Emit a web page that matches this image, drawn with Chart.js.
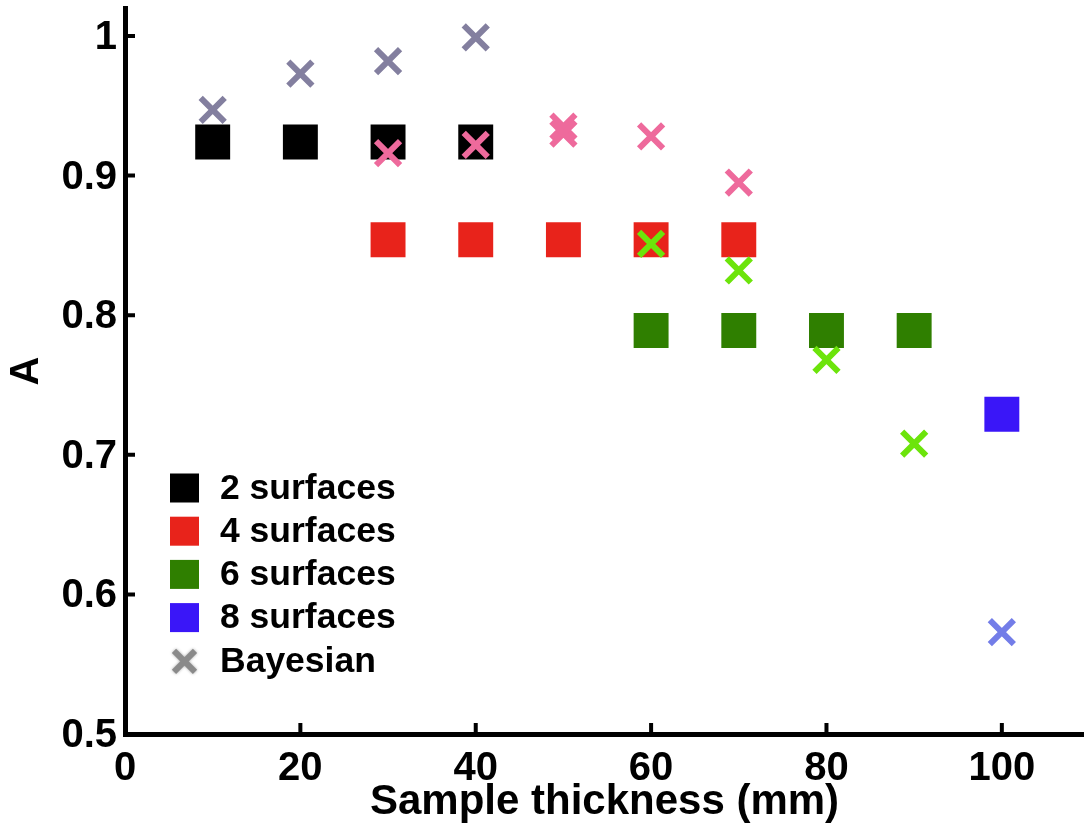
<!DOCTYPE html>
<html>
<head>
<meta charset="utf-8">
<script src="https://cdn.jsdelivr.net/npm/chart.js@4.4.1/dist/chart.umd.min.js"></script>
<style>
    html, body { margin: 0; padding: 0; background: #fff; }
    #wrap { width: 1084px; height: 828px; }
</style>
</head>
<body>
<div id="wrap"><canvas id="thicknessChart" width="1084" height="828"></canvas></div>
<script>
// measured surfaces (squares)
const twoX = [10, 20, 30, 40];
const twoA = [0.924, 0.924, 0.924, 0.924];
const fourX = [30, 40, 50, 60, 70];
const fourA = [0.854, 0.854, 0.854, 0.854, 0.854];
const sixX = [60, 70, 80, 90];
const sixA = [0.789, 0.789, 0.789, 0.789];
const eightX = [100];
const eightA = [0.729];

// Bayesian estimates (crosses), one group per surface count
const bayTwoX = [10, 20, 30, 40];
const bayTwoA = [0.947, 0.973, 0.982, 0.999];
const bayFourX = [30, 40, 50, 50, 60, 70];
const bayFourA = [0.916, 0.922, 0.935, 0.930, 0.928, 0.895];
const baySixX = [60, 70, 80, 90];
const baySixA = [0.851, 0.832, 0.768, 0.708];
const bayEightX = [100];
const bayEightA = [0.573];

const xTicks = [0, 20, 40, 60, 80, 100];
const yTicks = [0.5, 0.6, 0.7, 0.8, 0.9, 1];
const legendLabels = ['2 surfaces', '4 surfaces', '6 surfaces', '8 surfaces', 'Bayesian'];

const toPoints = (xs, ys) => xs.map((x, i) => ({ x: x, y: ys[i] }));

function squares(label, xs, ys, color) {
    return {
        label: label,
        data: toPoints(xs, ys),
        pointStyle: 'rect',
        pointRadius: 24.7,
        pointHoverRadius: 24.7,
        pointBorderWidth: 0,
        backgroundColor: color,
        borderColor: color,
        order: 2
    };
}

function crosses(label, xs, ys, color) {
    return {
        label: label,
        data: toPoints(xs, ys),
        pointStyle: 'crossRot',
        pointRadius: 17,
        pointHoverRadius: 17,
        pointBorderWidth: 6,
        backgroundColor: color,
        borderColor: color,
        order: 1
    };
}

// ticks in this figure point into the plot, so draw them ourselves
const inwardTicks = {
    id: 'inwardTicks',
    afterDraw(chart) {
        const ctx = chart.ctx;
        const area = chart.chartArea;
        const xs = chart.scales.x, ys = chart.scales.y;
        ctx.save();
        ctx.strokeStyle = '#000';
        ctx.lineWidth = 4;
        ctx.beginPath();
        xTicks.forEach(v => {
            if (v === 0) return;
            const px = xs.getPixelForValue(v);
            ctx.moveTo(px, area.bottom);
            ctx.lineTo(px, area.bottom - 11);
        });
        yTicks.forEach(v => {
            if (v === 0.5) return;
            const py = ys.getPixelForValue(v);
            ctx.moveTo(area.left, py);
            ctx.lineTo(area.left + 10, py);
        });
        ctx.stroke();
        ctx.restore();
    }
};

// legend sits inside the plot at lower left
const boxLegend = {
    id: 'boxLegend',
    afterDraw(chart) {
        const ctx = chart.ctx;
        const colors = ['#000000', '#e8231b', '#2f7f00', '#3a16f8'];
        const left = 170, top = 488, step = 43.2;
        ctx.save();
        ctx.font = "bold 35.5px 'Liberation Sans', Arial, sans-serif";
        ctx.textBaseline = 'middle';
        ctx.fillStyle = '#000';
        legendLabels.forEach((lab, i) => {
            const cy = top + i * step;
            if (i < 4) {
                ctx.fillStyle = colors[i];
                ctx.fillRect(left, cy - 14.5, 29, 29);
            } else {
                ctx.save();
                ctx.strokeStyle = '#8a8a8a';
                ctx.lineWidth = 6;
                ctx.shadowColor = 'rgba(0,0,0,0.35)';
                ctx.shadowBlur = 3;
                ctx.beginPath();
                ctx.moveTo(left + 4, cy - 10);
                ctx.lineTo(left + 25, cy + 11);
                ctx.moveTo(left + 25, cy - 10);
                ctx.lineTo(left + 4, cy + 11);
                ctx.stroke();
                ctx.restore();
            }
            ctx.fillStyle = '#000';
            ctx.fillText(lab, left + 50, cy + 1);
        });
        ctx.restore();
    }
};

document.addEventListener('DOMContentLoaded', () => {
    Chart.defaults.font.family = "'Liberation Sans', Arial, sans-serif";
    Chart.defaults.font.weight = 'bold';
    Chart.defaults.color = '#000';

    const ctx = document.getElementById('thicknessChart').getContext('2d');
    new Chart(ctx, {
        type: 'scatter',
        data: {
            datasets: [
                crosses('Bayesian 2', bayTwoX, bayTwoA, '#837f9f'),
                crosses('Bayesian 4', bayFourX, bayFourA, '#ee6a9c'),
                crosses('Bayesian 6', baySixX, baySixA, '#6ce40b'),
                crosses('Bayesian 8', bayEightX, bayEightA, '#737de8'),
                squares('2 surfaces', twoX, twoA, '#000000'),
                squares('4 surfaces', fourX, fourA, '#e8231b'),
                squares('6 surfaces', sixX, sixA, '#2f7f00'),
                squares('8 surfaces', eightX, eightA, '#3a16f8')
            ]
        },
        options: {
            responsive: false,
            animation: false,
            layout: { autoPadding: false, padding: { top: 8, right: 0, left: 0, bottom: 0 } },
            scales: {
                x: {
                    type: 'linear',
                    min: 0,
                    max: 109.37,
                    grid: { display: false, drawTicks: false },
                    border: { display: true, color: '#000', width: 5 },
                    ticks: {
                        stepSize: 20,
                        includeBounds: false,
                        padding: 11,
                        font: { size: 40, weight: 'bold' },
                        color: '#000'
                    },
                    title: {
                        display: true,
                        text: 'Sample thickness (mm)',
                        font: { size: 42, weight: 'bold' },
                        color: '#000',
                        padding: { top: 0, bottom: 0 }
                    },
                    afterFit(scale) {
                        scale.height = 94;
                        scale.paddingLeft = 0;
                        scale.paddingRight = 0;
                    }
                },
                y: {
                    type: 'linear',
                    min: 0.5,
                    max: 1.02,
                    grid: { display: false, drawTicks: false },
                    border: { display: true, color: '#000', width: 5 },
                    ticks: {
                        stepSize: 0.1,
                        includeBounds: false,
                        padding: 8,
                        labelOffset: 2,
                        font: { size: 40, weight: 'bold' },
                        color: '#000',
                        callback: v => String(Math.round(v * 10) / 10)
                    },
                    title: {
                        display: true,
                        text: 'A',
                        font: { size: 40, weight: 'bold' },
                        color: '#000',
                        padding: { top: 3, bottom: 0 }
                    },
                    afterFit(scale) {
                        scale.width = 125;
                        scale.paddingTop = 0;
                        scale.paddingBottom = 0;
                    }
                }
            },
            plugins: {
                legend: { display: false },
                tooltip: { enabled: false }
            }
        },
        plugins: [inwardTicks, boxLegend]
    });
});
</script>
</body>
</html>
